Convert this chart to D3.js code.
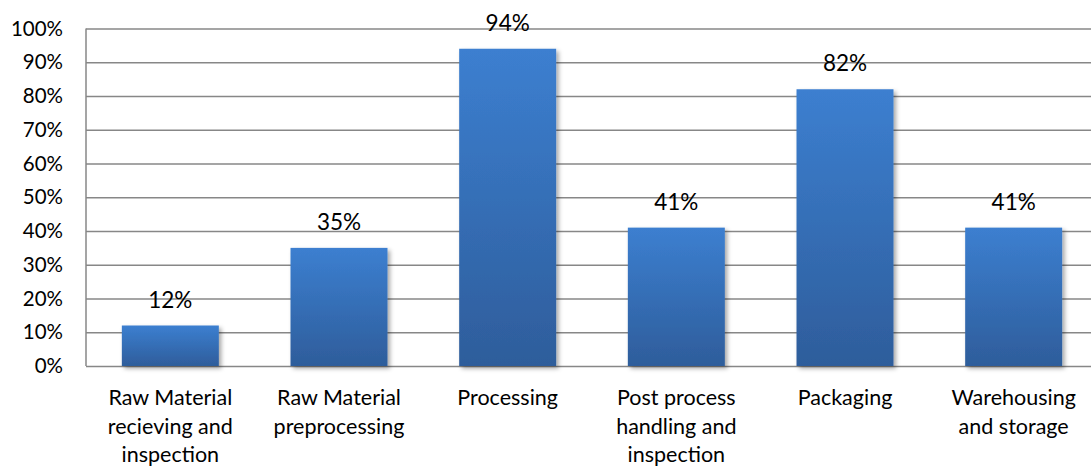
<!DOCTYPE html>
<html>
<head>
<meta charset="utf-8">
<script src="https://cdn.jsdelivr.net/npm/d3@7/dist/d3.min.js"></script>
<style>
  html, body { margin: 0; padding: 0; background: #fff; }
  svg { display: block; }
  text { font-family: Lato, "Open Sans", sans-serif; fill: #000; }
</style>
</head>
<body>
<svg id="chart" width="1091" height="466"></svg>
<script>
// Share of stages, per processing step
const categories = [
  ["Raw Material", "recieving and", "inspection"],
  ["Raw Material", "preprocessing"],
  ["Processing"],
  ["Post process", "handling and", "inspection"],
  ["Packaging"],
  ["Warehousing", "and storage"]
];
const values = [12, 35, 94, 41, 82, 41];
const yTicks = [0, 10, 20, 30, 40, 50, 60, 70, 80, 90, 100];

const svg = d3.select("#chart");
const margin = { left: 86, right: -7, top: 28.5, bottom: 100 };
const W = 1091, H = 466;
const plotBottom = 366;

const x = d3.scaleBand()
  .domain(d3.range(categories.length))
  .range([margin.left, W - margin.right])
  .paddingInner(0.425)
  .paddingOuter(0.2125);

const y = d3.scaleLinear().domain([0, 100]).range([plotBottom, margin.top]);

// Bar gradient and soft shadow
const defs = svg.append("defs");
const grad = defs.append("linearGradient")
  .attr("id", "barGrad").attr("x1", 0).attr("y1", 0).attr("x2", 0).attr("y2", 1);
grad.append("stop").attr("offset", "0%").attr("stop-color", "#3c7fd0");
grad.append("stop").attr("offset", "100%").attr("stop-color", "#2e5d9b");

const shadow = defs.append("filter").attr("id", "shadow")
  .attr("x", "-10%").attr("y", "-10%").attr("width", "130%").attr("height", "130%");
shadow.append("feDropShadow")
  .attr("dx", 2.5).attr("dy", 2.5).attr("stdDeviation", 2)
  .attr("flood-color", "#000").attr("flood-opacity", 0.35);

// Horizontal gridlines
const yAxis = d3.axisLeft(y)
  .tickValues(yTicks)
  .tickSize(-(W - margin.right - margin.left))
  .tickFormat(d => d + "%")
  .tickPadding(23);

const gy = svg.append("g")
  .attr("transform", `translate(${margin.left},0)`)
  .call(yAxis);
gy.select(".domain").remove();
gy.selectAll(".tick line").attr("stroke", "#878787").attr("stroke-width", 1.5);
gy.selectAll(".tick text")
  .style("font-size", "20.5px")
  .attr("fill", "#000");

// Left axis line
svg.append("line")
  .attr("x1", margin.left).attr("x2", margin.left)
  .attr("y1", y(100)).attr("y2", plotBottom)
  .attr("stroke", "#878787").attr("stroke-width", 1.5);

// Bars
svg.append("g").selectAll("rect")
  .data(values)
  .join("rect")
  .attr("x", (d, i) => x(i))
  .attr("width", x.bandwidth())
  .attr("y", d => y(d))
  .attr("height", d => plotBottom - y(d))
  .attr("fill", "url(#barGrad)")
  .attr("filter", "url(#shadow)");

// Value labels
svg.append("g").selectAll("text")
  .data(values)
  .join("text")
  .attr("x", (d, i) => x(i) + x.bandwidth() / 2)
  .attr("y", d => y(d) - 18)
  .attr("text-anchor", "middle")
  .style("font-size", "22.5px")
  .text(d => d + "%");

// Category labels
const labels = svg.append("g").selectAll("text")
  .data(categories)
  .join("text")
  .attr("x", (d, i) => x(i) + x.bandwidth() / 2)
  .attr("y", 405)
  .attr("text-anchor", "middle")
  .style("font-size", "21.5px");
labels.selectAll("tspan")
  .data(d => d)
  .join("tspan")
  .attr("x", function () { return d3.select(this.parentNode).attr("x"); })
  .attr("dy", (d, i) => i === 0 ? 0 : 28.6)
  .text(d => d);
</script>
</body>
</html>
